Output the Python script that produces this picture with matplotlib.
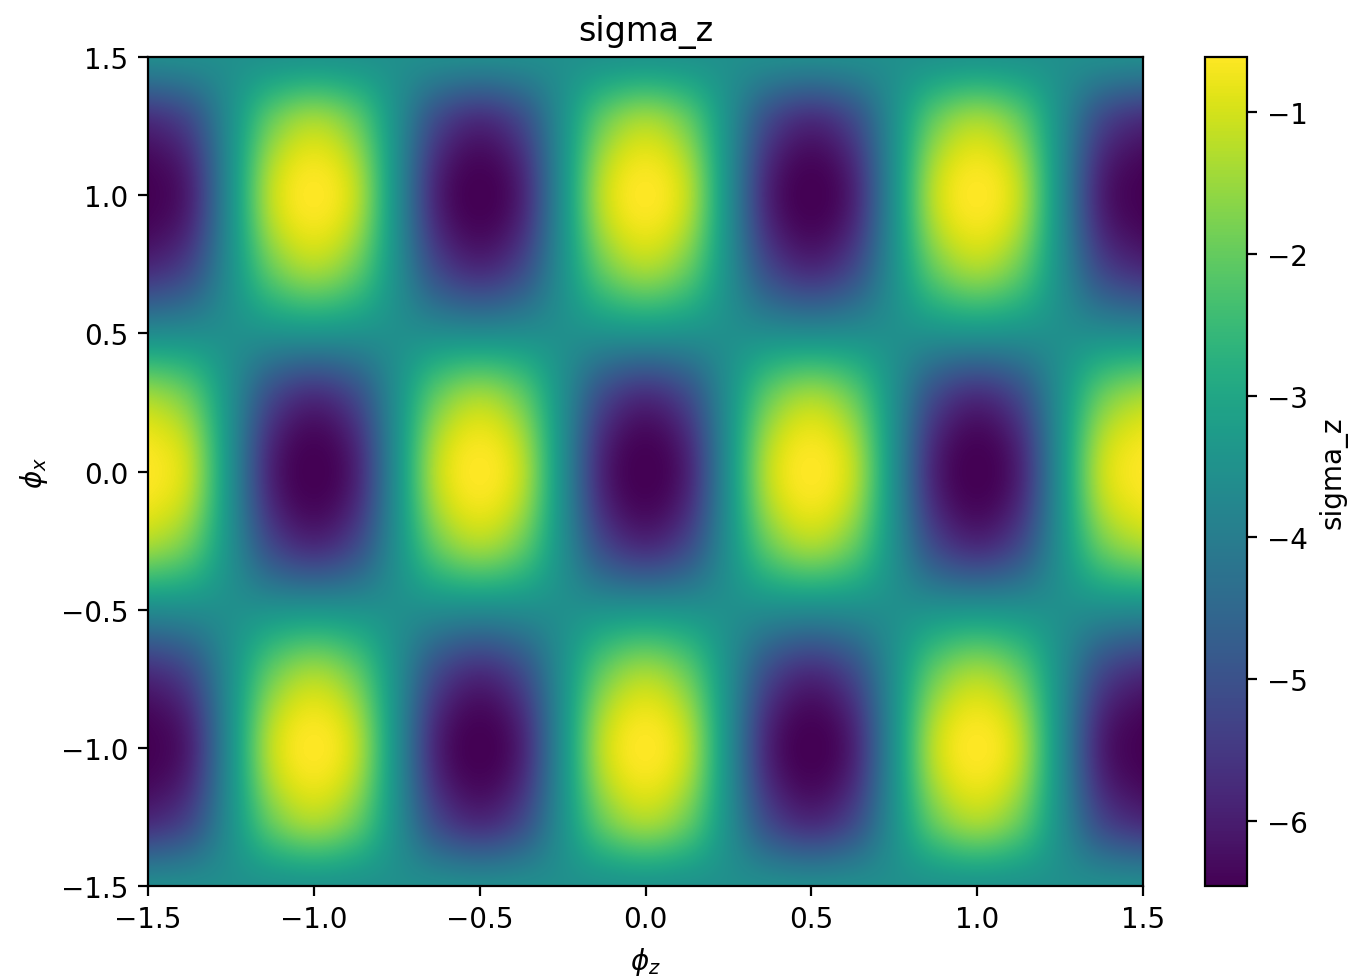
#!/usr/bin/env python3
"""
sigma_z map over (phi_z, phi_x)
"""
import numpy as np
import matplotlib
matplotlib.use('Agg')
import matplotlib.pyplot as plt

# Grid axes
phi_z = [-1.5, -1.375, -1.25, -1.125, -1.0, -0.875, -0.75, -0.625, -0.5,
         -0.375, -0.25, -0.125, 0.0, 0.125, 0.25, 0.375, 0.5, 0.625, 0.75,
         0.875, 1.0, 1.125, 1.25, 1.375, 1.5]
phi_x = [-1.5, -1.25, -1.0, -0.75, -0.5, -0.25, 0.0, 0.25, 0.5, 0.75, 1.0, 1.25, 1.5]

# sigma_z along phi_z for the different row types
# rows at phi_x = +-1 (dark at phi_z = -1.5, yellow at -1)
peak_a = [-6.46, -5.90, -3.54, -1.20, -0.61, -1.20, -3.54, -5.90,
          -6.46, -5.90, -3.54, -1.20, -0.61, -1.20, -3.54, -5.90,
          -6.46, -5.90, -3.54, -1.20, -0.61, -1.20, -3.54, -5.90, -6.46]
# rows at phi_x = +-0.75, +-1.25
mid_a = [-5.85, -5.25, -3.54, -1.90, -1.30, -1.90, -3.54, -5.25,
         -5.85, -5.25, -3.54, -1.90, -1.30, -1.90, -3.54, -5.25,
         -5.85, -5.25, -3.54, -1.90, -1.30, -1.90, -3.54, -5.25, -5.85]
# rows at phi_x = +-0.5, +-1.5 (teal band)
flat = [-3.64, -3.60, -3.54, -3.48, -3.44, -3.48, -3.54, -3.60,
        -3.64, -3.60, -3.54, -3.48, -3.44, -3.48, -3.54, -3.60,
        -3.64, -3.60, -3.54, -3.48, -3.44, -3.48, -3.54, -3.60, -3.64]
# rows at phi_x = +-0.25
mid_b = [-1.30, -1.90, -3.54, -5.25, -5.85, -5.25, -3.54, -1.90,
         -1.30, -1.90, -3.54, -5.25, -5.85, -5.25, -3.54, -1.90,
         -1.30, -1.90, -3.54, -5.25, -5.85, -5.25, -3.54, -1.90, -1.30]
# row at phi_x = 0 (yellow at phi_z = -1.5, dark at -1)
peak_b = [-0.61, -1.20, -3.54, -5.90, -6.46, -5.90, -3.54, -1.20,
          -0.61, -1.20, -3.54, -5.90, -6.46, -5.90, -3.54, -1.20,
          -0.61, -1.20, -3.54, -5.90, -6.46, -5.90, -3.54, -1.20, -0.61]

# Colour limits from the colorbar
vmin, vmax = -6.46, -0.61


def build_grid():
    """Stack the row profiles bottom (phi_x=-1.5) to top (phi_x=1.5)"""
    rows = [flat, mid_a, peak_a, mid_a, flat, mid_b, peak_b,
            mid_b, flat, mid_a, peak_a, mid_a, flat]
    return np.array(rows)


def main():
    grid = build_grid()

    fig = plt.figure(figsize=(6.76, 4.89), dpi=200)
    ax = fig.add_axes([0.1095, 0.0930, 0.7359, 0.8477])
    cax = fig.add_axes([0.8913, 0.0930, 0.0311, 0.8477])

    dz = phi_z[1] - phi_z[0]
    dx = phi_x[1] - phi_x[0]
    extent = [phi_z[0] - dz / 2, phi_z[-1] + dz / 2,
              phi_x[0] - dx / 2, phi_x[-1] + dx / 2]
    im = ax.imshow(grid, origin='lower', extent=extent, aspect='auto',
                   cmap='viridis', vmin=vmin, vmax=vmax,
                   interpolation='catrom')
    ax.set_xlim(-1.5, 1.5)
    ax.set_ylim(-1.5, 1.5)
    ax.set_xticks([-1.5, -1.0, -0.5, 0.0, 0.5, 1.0, 1.5])
    ax.set_yticks([-1.5, -1.0, -0.5, 0.0, 0.5, 1.0, 1.5])
    ax.set_xlabel(r'$\phi_z$')
    ax.set_ylabel(r'$\phi_x$')
    ax.set_title('sigma_z')

    cbar = fig.colorbar(im, cax=cax)
    cbar.set_label('sigma_z')

    fig.savefig('out.png', dpi=200)
    plt.close(fig)


if __name__ == "__main__":
    main()
